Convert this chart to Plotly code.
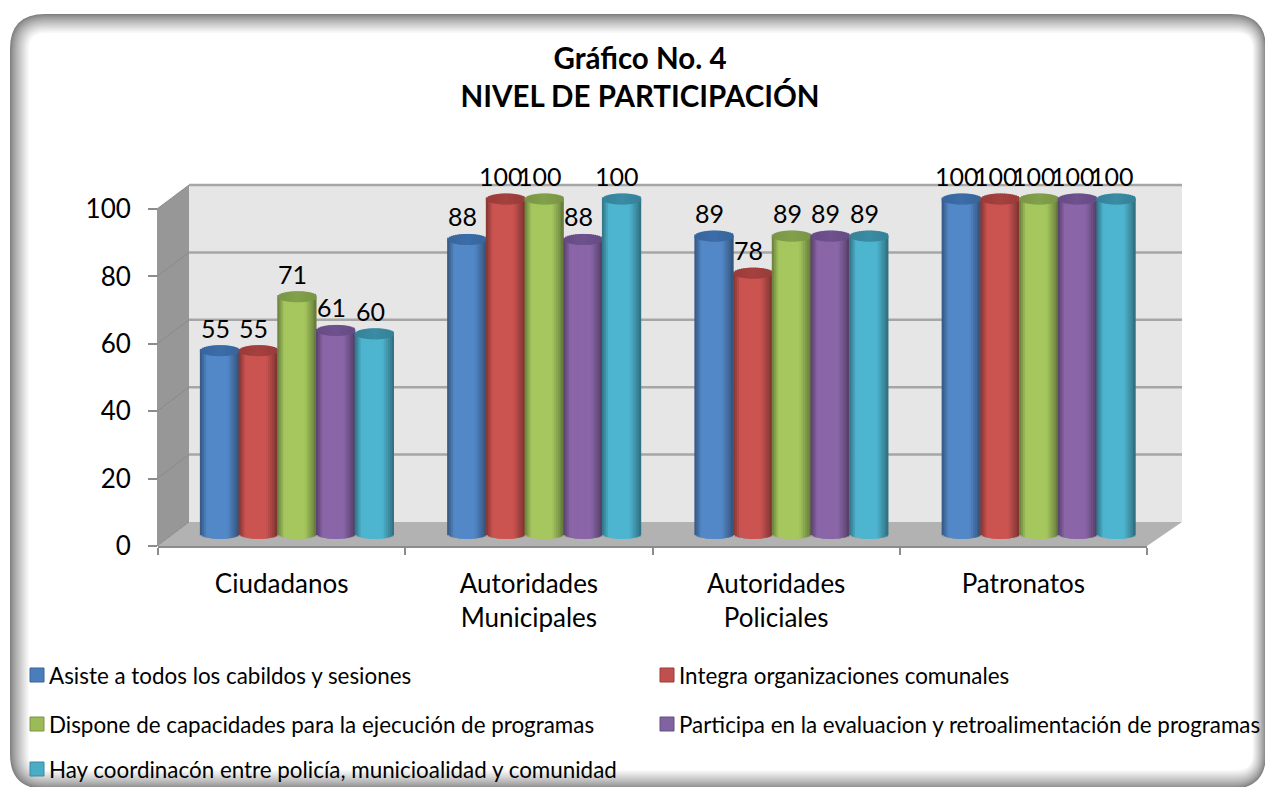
import plotly.graph_objects as go

# ---------- data ----------
categories = ["Ciudadanos", "Autoridades Municipales", "Autoridades Policiales", "Patronatos"]
tick_text = ["Ciudadanos", "Autoridades<br>Municipales", "Autoridades<br>Policiales", "Patronatos"]
series_names = [
    "Asiste a todos los cabildos y sesiones",
    "Integra organizaciones comunales",
    "Dispone de capacidades para la ejecución de programas",
    "Participa en la evaluacion y retroalimentación de programas",
    "Hay coordinacón entre policía, municioalidad y comunidad",
]
asiste = [55, 88, 89, 100]
integra = [55, 100, 78, 100]
dispone = [71, 100, 89, 100]
participa = [61, 88, 89, 100]
coordina = [60, 100, 89, 100]
series_values = [asiste, integra, dispone, participa, coordina]
y_ticks = [0, 20, 40, 60, 80, 100]
title_text = "<b>Gráfico No. 4<br>NIVEL DE PARTICIPACIÓN</b>"

# ---------- style ----------
W, H = 1265, 787
FONT = "Lato"
body_colors = ["#5388c8", "#cb5451", "#a5c75e", "#8a66a8", "#4eb5d0"]
cap_colors = ["#3a6aa4", "#a03f3d", "#7f9c49", "#6b4f8a", "#38889f"]
legend_colors = ["#4a7ebb", "#c0504d", "#9bbb59", "#8064a2", "#4bacc6"]
legend_edges = ["#3a6396", "#9b3d3a", "#7a9444", "#644e80", "#3a8aa0"]
X0, X1, Y0, YTOP = 158, 1147, 546, 185      # plot box in pixels
DY = 24                                     # depth of the walls
PX_PER_UNIT = 3.37
CAT_PX = (X1 - X0) / 4
PITCH = 38.7
BAR_SHIFT = 15
TOP_PX = 10                                  # cap-ellipse centre offset above the value
FOOT_PX = 12.5                               # base-ellipse centre above the axis
RY = 5.5
N = 20


def px(x):
    return (x - X0) / (X1 - X0)


def py(y):
    return (Y0 - y) / (Y0 - YTOP)


def shade(hex_color, f):
    r, g, b = (int(hex_color[i:i + 2], 16) for i in (1, 3, 5))
    return f"rgb({r * f:.0f},{g * f:.0f},{b * f:.0f})"


def body_factor(t):
    if t < 0.18:
        return 0.62 + 0.38 * (t / 0.18)
    if t > 0.70:
        return 1 - 0.40 * ((t - 0.70) / 0.30)
    return 1.0


fig = go.Figure()
top = TOP_PX / PX_PER_UNIT
foot = FOOT_PX / PX_PER_UNIT
ry = RY / PX_PER_UNIT
strip = PITCH / N / CAT_PX
bar_w = PITCH + 0.6

for s, (name, vals) in enumerate(zip(series_names, series_values)):
    for k in range(N):
        t = (k + 0.5) / N
        u = 2 * t - 1
        half = ry * (1 - u * u) ** 0.5
        left = ((s - 2.5) * PITCH + BAR_SHIFT + (k / N) * bar_w) / CAT_PX
        fig.add_trace(go.Bar(
            x=categories, y=[v + top - foot + half for v in vals], base=[foot - half] * 4,
            width=strip * (1.7 if k < N - 1 else 1.0), offset=left,
            marker=dict(color=shade(body_colors[s], body_factor(t)), line_width=0),
            showlegend=False, hoverinfo="skip", cliponaxis=False,
        ))
    for k in range(N):
        t = (k + 0.5) / N
        u = 2 * t - 1
        half = ry * (1 - u * u) ** 0.5
        left = ((s - 2.5) * PITCH + BAR_SHIFT + (k / N) * bar_w) / CAT_PX
        fig.add_trace(go.Bar(
            x=categories, y=[2 * half] * 4, base=[v + top - half for v in vals],
            width=strip * (1.7 if k < N - 1 else 1.0), offset=left,
            marker=dict(color=shade(cap_colors[s], 0.95 + 0.08 * (1 - abs(u))), line_width=0),
            showlegend=False, hoverinfo="skip", cliponaxis=False,
        ))

annotations = []
for s, vals in enumerate(series_values):
    for c, v in enumerate(vals):
        annotations.append(dict(
            x=c + ((s - 2) * PITCH + BAR_SHIFT) / CAT_PX, y=v + top, xref="x", yref="y",
            text=str(v), showarrow=False, yanchor="middle", xanchor="center",
            xshift=-4, yshift=23, font=dict(family=FONT, size=25, color="#000"),
        ))

# legend entries, drawn by hand to keep the two-column layout
legend_pos = [(49, 675), (679, 675), (49, 724), (679, 724), (49, 769)]
shapes = []


def rounded(x0, y0, x1, y1, r):
    pts = [
        f"M {px(x0 + r)} {py(y0)}", f"L {px(x1 - r)} {py(y0)}",
        f"Q {px(x1)} {py(y0)} {px(x1)} {py(y0 + r)}", f"L {px(x1)} {py(y1 - r)}",
        f"Q {px(x1)} {py(y1)} {px(x1 - r)} {py(y1)}", f"L {px(x0 + r)} {py(y1)}",
        f"Q {px(x0)} {py(y1)} {px(x0)} {py(y1 - r)}", f"L {px(x0)} {py(y0 + r)}",
        f"Q {px(x0)} {py(y0)} {px(x0 + r)} {py(y0)}", "Z",
    ]
    return " ".join(pts)


# frame with soft inner shadow
FRAME = (11, 15, 1265, 788)
STEPS = 20
for i in range(STEPS):
    g = int(128 + 127 * (i / (STEPS - 1)) ** 0.8)
    shapes.append(dict(
        type="path", xref="paper", yref="paper", layer="below",
        path=rounded(FRAME[0] + i, FRAME[1] + i, FRAME[2] - i * 0.7, FRAME[3] - i, max(34 - i, 8)),
        line=dict(color=f"rgb({g},{g},{g})", width=2),
        fillcolor="white" if i == STEPS - 1 else "rgba(0,0,0,0)",
    ))


def poly(points, fill):
    path = "M " + " L ".join(f"{px(x)} {py(y)}" for x, y in points) + " Z"
    return dict(type="path", xref="paper", yref="paper", layer="below", path=path,
                fillcolor=fill, line_width=0)


def seg(x0, y0, x1, y1, color, width):
    return dict(type="line", xref="paper", yref="paper", layer="below",
                x0=px(x0), y0=py(y0), x1=px(x1), y1=py(y1),
                line=dict(color=color, width=width))


BX0, BX1 = X0 + 31, X1 + 35
BY0, BY1 = Y0 - DY, YTOP
shapes.append(poly([(BX0, BY1), (BX1, BY1), (BX1, BY0), (BX0, BY0)], "#e6e6e6"))
shapes.append(poly([(X0 - 1, Y0 - 337), (BX0, BY1), (BX0, BY0), (X0 - 1, Y0)], "#979797"))
shapes.append(poly([(X0 - 1, Y0), (BX0, BY0), (BX1, BY0), (X1, Y0)], "#b2b2b2"))
for tv in y_ticks:
    y_front = Y0 - tv * PX_PER_UNIT
    y_back = y_front - DY
    if tv > 0:
        shapes.append(seg(BX0, y_back, BX1, y_back, "#a6a6a6", 2.5))
    shapes.append(seg(X0 - 1, y_front, BX0, y_back, "#8a8a8a", 1))

for (lx, ly), col, edge, name in zip(legend_pos, legend_colors, legend_edges, series_names):
    shapes.append(dict(type="rect", xref="paper", yref="paper", layer="above",
                       x0=px(lx - 19), x1=px(lx - 5), y0=py(ly - 7), y1=py(ly + 7),
                       fillcolor=col, line=dict(color=edge, width=1)))
    annotations.append(dict(x=px(lx - 2), y=py(ly), xref="paper", yref="paper", text=name,
                            showarrow=False, xanchor="left", yanchor="middle",
                            font=dict(family=FONT, size=22.4, color="#000")))

fig.update_layout(
    width=W, height=H, margin=dict(l=X0, r=W - X1, t=YTOP, b=H - Y0, pad=0, autoexpand=False),
    paper_bgcolor="white", plot_bgcolor="rgba(0,0,0,0)", barmode="overlay",
    showlegend=False, font=dict(family=FONT, color="#000"),
    title=dict(text=title_text, x=640 / W, xref="container", xanchor="center",
               y=1 - 69 / H, yanchor="middle", font=dict(family=FONT, size=29.5, color="#000")),
    xaxis=dict(type="category", categoryorder="array", categoryarray=categories,
               range=[-0.5, 3.5], tickson="boundaries", ticks="outside", ticklen=7,
               tickcolor="#8c8c8c", tickwidth=1.5, showline=True, linecolor="#8c8c8c", linewidth=1.5,
               showgrid=False, zeroline=False, tickmode="array", tickvals=categories,
               ticktext=tick_text, tickfont=dict(family=FONT, size=26, color="#000"),
               tickangle=0, ticklabelstandoff=14),
    yaxis=dict(range=[0, (Y0 - YTOP) / PX_PER_UNIT], tickmode="array", tickvals=y_ticks,
               ticks="outside", ticklen=9, tickcolor="#8c8c8c", tickwidth=1.5, showline=False,
               showgrid=False, zeroline=False, tickfont=dict(family=FONT, size=26, color="#000"),
               ticklabelstandoff=12),
    shapes=shapes, annotations=annotations,
)

fig.write_html("out.html", config={"displayModeBar": False},
               post_script="document.body.style.margin='0';document.body.style.overflow='hidden';")
